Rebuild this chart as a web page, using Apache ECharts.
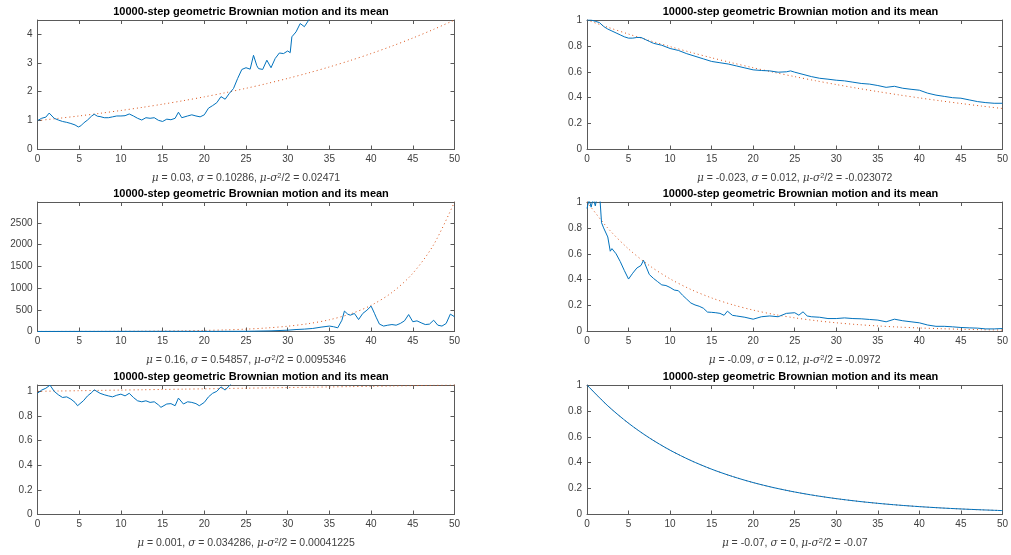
<!DOCTYPE html>
<html>
<head>
<meta charset="utf-8">
<script src="https://cdn.jsdelivr.net/npm/echarts@6/dist/echarts.min.js"></script>
<style>
  html, body { margin: 0; padding: 0; background: #fff; }
  #chart { width: 1011px; height: 555px; }
</style>
</head>
<body>
<div id="chart"></div>
<script>
// x ticks shared by all six panels
const xTicks = [0, 5, 10, 15, 20, 25, 30, 35, 40, 45, 50];
const MEAN_STEP = 2.5;

// panel parameters
const mus = ['0.03', '-0.023', '0.16', '-0.09', '0.001', '-0.07'];
const sigmas = ['0.10286', '0.012', '0.54857', '0.12', '0.034286', '0'];
const drifts = ['0.02471', '-0.023072', '0.0095346', '-0.0972', '0.00041225', '-0.07'];
const yMax = [4.4817, 1, 2981, 1, 1.0513, 1];
const yStep = [1, 0.2, 500, 0.2, 0.2, 0.2];

// sampled paths [t, value]
const pathTL = [[0,1.0],[0.5,1.08],[1,1.12],[1.4,1.26],[1.6,1.2],[2,1.08],[2.5,1.02],[3,0.97],[3.5,0.94],[4,0.9],[4.5,0.85],[4.9,0.78],[5.2,0.82],[5.5,0.91],[6,1.02],[6.5,1.16],[6.8,1.22],[7.2,1.15],[7.5,1.14],[8,1.1],[8.5,1.1],[9,1.13],[9.5,1.16],[10,1.16],[10.5,1.17],[11,1.23],[11.5,1.16],[12,1.08],[12.5,1.02],[13,1.1],[13.5,1.08],[14,1.1],[14.5,1.01],[15,0.97],[15.5,1.05],[16,1.03],[16.5,1.08],[16.9,1.29],[17.3,1.1],[17.5,1.12],[18,1.16],[18.5,1.2],[19,1.16],[19.5,1.13],[20,1.2],[20.5,1.43],[21,1.52],[21.5,1.62],[22,1.83],[22.5,1.74],[23,1.94],[23.5,2.11],[24,2.46],[24.5,2.77],[25,2.83],[25.5,2.78],[25.9,3.26],[26.3,2.9],[26.5,2.8],[27,2.77],[27.5,3.09],[28,2.83],[28.5,3.15],[29,3.34],[29.5,3.32],[30,3.41],[30.3,3.35],[30.5,3.9],[31,4.07],[31.5,4.36],[32,4.25],[32.5,4.47],[33,4.7],[33.5,4.9]];
const pathTR = [[0,1.0],[0.5,1.0],[1,0.99],[1.5,0.98],[2,0.95],[2.5,0.93],[3,0.915],[3.5,0.9],[4,0.885],[4.5,0.87],[5,0.86],[5.5,0.86],[6,0.865],[6.5,0.865],[7,0.85],[7.5,0.835],[8,0.82],[9,0.805],[10,0.78],[11,0.765],[12,0.74],[13,0.72],[14,0.7],[15,0.68],[16,0.67],[17,0.66],[18,0.645],[19,0.63],[20,0.615],[21,0.61],[22,0.607],[23,0.597],[24,0.6],[24.5,0.607],[25,0.597],[26,0.58],[27,0.563],[28,0.55],[29,0.543],[30,0.535],[31,0.53],[32,0.52],[33,0.51],[34,0.505],[35,0.494],[36,0.48],[37,0.488],[38,0.473],[39,0.465],[40,0.458],[41,0.435],[42,0.42],[43,0.41],[44,0.4],[45,0.396],[46,0.383],[47,0.37],[48,0.362],[49,0.357],[50,0.357]];
const pathML = [[0,1],[5,2],[10,3],[15,4],[20,3],[25,5],[26,8],[28,15],[30,30],[31,45],[32,55],[33,70],[34,100],[35,125],[35.5,110],[36,85],[36.5,260],[36.8,470],[37.2,400],[37.5,375],[38,415],[38.5,275],[39,415],[39.5,490],[40,585],[40.2,610],[40.4,420],[40.6,330],[41,170],[41.5,125],[42,145],[42.5,160],[43,145],[43.5,185],[44,245],[44.5,390],[45,225],[45.5,245],[46,200],[46.5,160],[47,170],[47.5,260],[48,145],[48.5,125],[49,185],[49.5,400],[50,340]];
const pathMR = [[0,0.95],[0.25,1.02],[0.5,0.96],[0.75,1.03],[1,0.97],[1.25,1.05],[1.5,1.08],[1.75,0.84],[2,0.8],[2.5,0.73],[2.8,0.62],[3,0.64],[3.5,0.6],[4,0.54],[4.5,0.47],[5,0.405],[5.5,0.45],[6,0.49],[6.5,0.51],[6.8,0.55],[7.5,0.44],[8,0.41],[8.5,0.385],[9,0.36],[9.5,0.355],[10,0.34],[10.5,0.32],[11,0.315],[11.5,0.28],[12,0.25],[12.5,0.22],[13,0.205],[13.5,0.195],[14,0.18],[14.5,0.15],[15,0.148],[15.5,0.145],[16,0.14],[16.5,0.125],[16.9,0.157],[17.5,0.125],[18,0.12],[19,0.11],[20,0.095],[21,0.114],[22,0.12],[23,0.114],[24,0.14],[25,0.145],[25.5,0.126],[26,0.152],[26.5,0.12],[27,0.114],[28,0.11],[29,0.1],[30,0.1],[31,0.105],[32,0.1],[33,0.098],[34,0.093],[35,0.088],[36,0.075],[37,0.095],[38,0.083],[39,0.075],[40,0.067],[41,0.05],[42,0.04],[43,0.04],[44,0.036],[45,0.031],[46,0.028],[47,0.026],[48,0.02],[49,0.02],[50,0.023]];
const pathBL = [[0,0.984],[0.5,1.01],[1,1.025],[1.5,1.05],[2,1.0],[2.5,0.972],[3,0.95],[3.5,0.955],[4,0.937],[4.5,0.91],[4.8,0.883],[5.5,0.923],[6,0.963],[6.5,0.99],[6.8,1.012],[7.5,0.984],[8,0.972],[8.5,0.963],[9,0.955],[9.5,0.968],[10,0.977],[10.5,0.963],[11,0.984],[11.5,0.95],[12,0.923],[12.5,0.915],[13,0.923],[13.5,0.91],[14,0.915],[14.5,0.89],[14.8,0.87],[15.5,0.897],[16,0.9],[16.5,0.883],[16.9,0.945],[17.5,0.897],[18,0.915],[18.5,0.91],[19,0.9],[19.4,0.883],[20,0.91],[20.5,0.955],[21,0.984],[21.5,1.0],[22,1.036],[22.5,1.01],[23,1.045],[23.5,1.08],[24,1.1]];
const pathBR = [1, 0.8395, 0.7047, 0.5916, 0.4966, 0.4169, 0.3499, 0.2938, 0.2466, 0.2070, 0.1738, 0.1459, 0.1225, 0.1028, 0.0863, 0.0724, 0.0608, 0.0510, 0.0429, 0.0360, 0.0302];

// theoretical means, one value every MEAN_STEP
const meanTL = [1, 1.0779, 1.1618, 1.2523, 1.3499, 1.4550, 1.5683, 1.6905, 1.8221, 1.9640, 2.1170, 2.2819, 2.4596, 2.6512, 2.8577, 3.0802, 3.3201, 3.5787, 3.8574, 4.1578, 4.4817];
const meanTR = [1, 0.9441, 0.8913, 0.8415, 0.7945, 0.7501, 0.7082, 0.6686, 0.6313, 0.5960, 0.5627, 0.5312, 0.5016, 0.4735, 0.4471, 0.4221, 0.3985, 0.3762, 0.3552, 0.3353, 0.3166];
const meanML = [1, 1.492, 2.226, 3.320, 4.953, 7.389, 11.02, 16.44, 24.53, 36.60, 54.60, 81.45, 121.5, 181.3, 270.4, 403.4, 601.8, 897.8, 1339.4, 1998.2, 2981.0];
const meanMR = [1, 0.7985, 0.6376, 0.5092, 0.4066, 0.3247, 0.2592, 0.2070, 0.1653, 0.1320, 0.1054, 0.0842, 0.0672, 0.0537, 0.0429, 0.0342, 0.0273, 0.0218, 0.0174, 0.0139, 0.0111];
const meanBL = [1, 1.0025, 1.005, 1.0075, 1.01, 1.0126, 1.0151, 1.0177, 1.0202, 1.0228, 1.0253, 1.0279, 1.0305, 1.0330, 1.0356, 1.0382, 1.0408, 1.0434, 1.0460, 1.0486, 1.0513];
const meanBR = [1, 0.8395, 0.7047, 0.5916, 0.4966, 0.4169, 0.3499, 0.2938, 0.2466, 0.2070, 0.1738, 0.1459, 0.1225, 0.1028, 0.0863, 0.0724, 0.0608, 0.0510, 0.0429, 0.0360, 0.0302];

const TITLE = '10000-step geometric Brownian motion and its mean';

const stepped = (arr) => arr.map((v, i) => [i * MEAN_STEP, v]);
const paths = [pathTL, pathTR, pathML, pathMR, pathBL, stepped(pathBR)];
const means = [meanTL, meanTR, meanML, meanMR, meanBL, meanBR].map(stepped);

const FONT = '"Liberation Sans", Arial, Helvetica, sans-serif';
const AXIS_COLOR = '#5a5a5a';
const LABEL_COLOR = '#404040';

const colLeft = [37.5, 587];
const plotW = 417;
const rowTop = [20, 202, 385];
const plotH = 129.5;

let grids = [], xAxes = [], yAxes = [], series = [], titles = [];

for (let k = 0; k < 6; k++) {
    let col = k % 2;
    let row = Math.floor(k / 2);
    let left = colLeft[col];
    let top = rowTop[row];
    grids.push({ left: left, top: top, width: plotW, height: plotH, show: false });

    let step = yStep[k];
    let tickStyle = { inside: true, length: 4, lineStyle: { color: AXIS_COLOR, width: 1 } };
    let lineStyle = { show: true, onZero: false, lineStyle: { color: AXIS_COLOR, width: 1 } };

    xAxes.push({
        type: 'value', gridIndex: k, position: 'bottom', min: 0, max: 50, interval: 5,
        axisLine: lineStyle, axisTick: tickStyle, splitLine: { show: false },
        axisLabel: { fontSize: 10, color: LABEL_COLOR, fontFamily: FONT, margin: 5 },
        name: '{g|μ} = ' + mus[k] + ', {g|σ} = ' + sigmas[k] + ', {g|μ}-{g|σ}{s|2}/2 = ' + drifts[k],
        nameLocation: 'middle', nameGap: 22,
        nameTextStyle: {
            fontSize: 10.5, color: LABEL_COLOR, fontFamily: FONT,
            rich: {
                g: { fontSize: 10.5, fontStyle: 'italic', fontFamily: '"DejaVu Serif", serif', color: LABEL_COLOR },
                s: { fontSize: 7.5, color: LABEL_COLOR, fontFamily: FONT, verticalAlign: 'top', padding: [0, 0, 5, 0] }
            }
        }
    });
    xAxes.push({
        type: 'value', gridIndex: k, position: 'top', min: 0, max: 50, interval: 5,
        axisLine: lineStyle, axisTick: tickStyle, splitLine: { show: false },
        axisLabel: { show: false }
    });
    yAxes.push({
        type: 'value', gridIndex: k, position: 'left', min: 0, max: yMax[k], interval: step,
        axisLine: lineStyle, axisTick: tickStyle, splitLine: { show: false },
        axisLabel: {
            fontSize: 10, color: LABEL_COLOR, fontFamily: FONT, margin: 5,
            formatter: (v) => {
                let q = v / step;
                if (Math.abs(q - Math.round(q)) > 1e-6) return '';
                return String(+v.toFixed(4));
            }
        }
    });
    yAxes.push({
        type: 'value', gridIndex: k, position: 'right', min: 0, max: yMax[k], interval: step,
        axisLine: lineStyle, axisTick: tickStyle, splitLine: { show: false },
        axisLabel: { show: false }
    });

    series.push({
        type: 'line', xAxisIndex: 2 * k, yAxisIndex: 2 * k, data: means[k],
        showSymbol: false, smooth: 0.3, clip: true, z: 2,
        lineStyle: { color: '#D95319', width: 1, type: [1, 3] }
    });
    series.push({
        type: 'line', xAxisIndex: 2 * k, yAxisIndex: 2 * k, data: paths[k],
        showSymbol: false, smooth: k === 5 ? 0.3 : false, clip: true, z: 3,
        lineStyle: { color: '#0072BD', width: 1 }
    });

    titles.push({
        text: TITLE, left: left + plotW / 2, top: top - 19, textAlign: 'center',
        textStyle: { fontSize: 11, fontWeight: 'bold', color: '#000', fontFamily: FONT }
    });
}

let myChart = echarts.init(document.getElementById('chart'), null, { renderer: 'canvas' });
let option = {
    animation: false,
    backgroundColor: '#fff',
    title: titles,
    grid: grids,
    xAxis: xAxes,
    yAxis: yAxes,
    series: series
};
myChart.setOption(option);
</script>
</body>
</html>
